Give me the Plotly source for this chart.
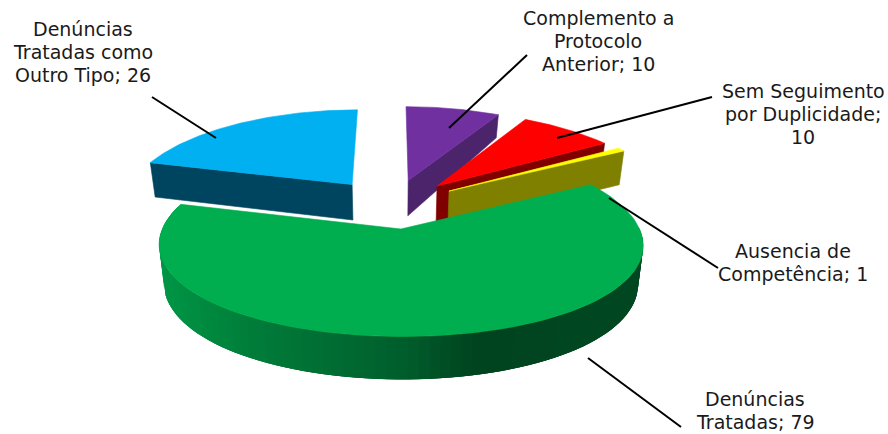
import numpy as np
import plotly.graph_objects as go

# Slices in clockwise order starting at twelve o'clock
labels = ["Complemento a<br>Protocolo<br>Anterior", "Sem Seguimento<br>por Duplicidade",
          "Ausencia de<br>Competência", "Denúncias<br>Tratadas",
          "Denúncias<br>Tratadas como<br>Outro Tipo"]
values = [10, 10, 1, 79, 26]
separators = ["; ", ";<br>", "; ", "; ", "; "]

top_colors = ["#7030A0", "#FF0000", "#FFFF00", "#00AE4F", "#00B0F0"]
side_colors = ["#4B246C", "#800000", "#808000", "#00703A", "#00455F"]

# Projection of the exploded pie: unit-radius disc seen from above with perspective
EXPLODE_X, EXPLODE_Y = 0.30, 0.28
CX, CY = 392.0, 203.7
RX, RY = 228.0, 88.0
PERSPECTIVE_X, PERSPECTIVE_Y = 0.16, 0.12
THICKNESS = 36.4
BASE_SHRINK = 0.98

# Shading of the green outer wall, keyed on screen x
WALL_X = [160, 250, 400, 475, 640]
WALL_RGB = [(0, 150, 70), (0, 125, 58), (0, 95, 45), (0, 68, 31), (0, 72, 34)]

# Label centres and leader lines, in the same order as the slices
LABEL_POS = [(598, 41), (803, 114), (793, 262), (755, 410), (83, 52)]
LEADERS = [((527, 55), (449, 128)), ((712, 97), (557, 138)), ((718, 268), (609, 198)),
           ((681, 427), (588, 358)), ((152, 97), (216, 138))]
FONT = "DejaVu Sans"
FONT_SIZE = 19
LINE_STEP = 23


def project(x, y, lower=False):
    """Map disc coordinates (x right, y back) to screen pixels."""
    x, y = np.asarray(x, float), np.asarray(y, float)
    sx = RX * x / (1 + PERSPECTIVE_X * y)
    s = 1 / (1 + PERSPECTIVE_Y * y)
    sy = CY - RY * y * s
    if lower:
        # the far rim of the base recedes faster than the top face
        drop = THICKNESS * s - 20 * np.clip(y - 0.7, 0, None)
        return CX + sx * BASE_SHRINK, sy + drop
    return CX + sx, sy


def polygon(fig, xs, ys, color, width=0.6):
    fig.add_trace(go.Scatter(x=xs, y=ys, mode="lines", fill="toself", fillcolor=color,
                             line=dict(color=color, width=width), hoverinfo="skip", showlegend=False))


total = sum(values)
edges = np.cumsum([0] + values) / total * 2 * np.pi
fig = go.Figure()


def draw_slice(i, n=120):
    a0, a1 = edges[i], edges[i + 1]
    mid = (a0 + a1) / 2
    ox, oy = EXPLODE_X * np.sin(mid), EXPLODE_Y * np.cos(mid)
    th = np.linspace(a0, a1, n)
    ax, ay = ox + np.sin(th), oy + np.cos(th)

    # cut face that turns towards the viewer
    if i != 3:
        a = a1 if a1 < np.pi else a0
        ex, ey = ox + np.sin(a), oy + np.cos(a)
        tx0, ty0 = project([ox, ex], [oy, ey])
        bx0, by0 = project([ox, ex], [oy, ey], lower=True)
        polygon(fig, list(tx0) + list(bx0[::-1]) + [tx0[0]],
                list(ty0) + list(by0[::-1]) + [ty0[0]], side_colors[i])
    else:
        # outer wall of the front slice, shaded in overlapping strips
        wall = np.linspace(np.pi / 2 - 0.02, 3 * np.pi / 2 + 0.25, 90)
        wx, wy = ox + np.sin(wall), oy + np.cos(wall)
        tx, ty = project(wx, wy)
        bx, by = project(wx, wy, lower=True)
        for k in range(len(wall) - 1):
            e = min(k + 3, len(wall) - 1)
            xm = (tx[k] + tx[k + 1]) / 2
            rgb = [int(np.interp(xm, WALL_X, [c[j] for c in WALL_RGB])) for j in range(3)]
            xs = list(tx[k:e + 1]) + list(bx[k:e + 1][::-1]) + [tx[k]]
            ys = list(ty[k:e + 1]) + list(by[k:e + 1][::-1]) + [ty[k]]
            polygon(fig, xs, ys, f"rgb({rgb[0]},{rgb[1]},{rgb[2]})", width=0)

    # top face
    px, py = project(np.r_[ox, ax, ox], np.r_[oy, ay, oy])
    polygon(fig, px, py, top_colors[i])


# Back-to-front painting order
for idx in [0, 4, 1, 2, 3]:
    draw_slice(idx)

for (p0, p1) in LEADERS:
    fig.add_trace(go.Scatter(x=[p0[0], p1[0]], y=[p0[1], p1[1]], mode="lines",
                             line=dict(color="black", width=2), hoverinfo="skip", showlegend=False))

# Each label line is placed on its own so the leading stays tight
for lab, val, sep, (lx, ly) in zip(labels, values, separators, LABEL_POS):
    lines = f"{lab}{sep}{val}".split("<br>")
    for j, line in enumerate(lines):
        fig.add_annotation(x=lx, y=ly + (j - (len(lines) - 1) / 2) * LINE_STEP, text=line,
                           showarrow=False, xanchor="center", yanchor="middle",
                           font=dict(family=FONT, size=FONT_SIZE, color="#1a1a1a"))

fig.update_layout(width=888, height=434, autosize=False, margin=dict(l=0, r=0, t=0, b=0),
                  paper_bgcolor="white", plot_bgcolor="white", showlegend=False,
                  xaxis=dict(range=[0, 888], visible=False, fixedrange=True),
                  yaxis=dict(range=[434, 0], visible=False, fixedrange=True))

fig.write_html("out.html", config={"displayModeBar": False})
